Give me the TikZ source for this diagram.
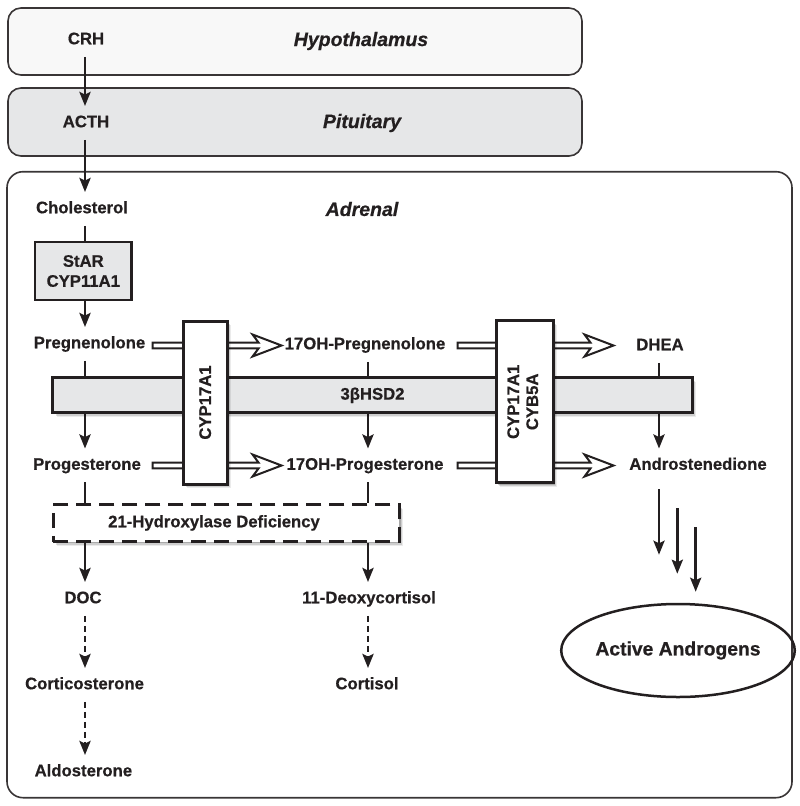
\documentclass[tikz,border=0pt]{standalone}
\usepackage{fontspec}
\setmainfont{Liberation Sans}[BoldFeatures={FakeBold=0.6},BoldItalicFeatures={FakeBold=0.6}]
\usetikzlibrary{arrows.meta,shapes.geometric,shadows,calc}
\definecolor{ink}{HTML}{231F20}
\definecolor{boxgray}{HTML}{E6E7E8}
\definecolor{lightfill}{HTML}{F8F8F8}
\newcommand\hollowarr[2]{%
  \draw[hollow] let \p1=#1, \p2=#2 in
   (\x1,{\y1+2.9pt}) -- ({\x2-23pt},{\y1+2.9pt}) -- ({\x2-29pt},{\y1+11pt})
   -- (\x2,\y1) -- ({\x2-29pt},{\y1-11pt}) -- ({\x2-23pt},{\y1-2.9pt})
   -- (\x1,{\y1-2.9pt}) -- cycle;}
\begin{document}
\begin{tikzpicture}[x=1pt,y=-1pt,
  region/.style={draw=ink!90, line width=1.6pt, rounded corners=13pt, inner sep=0pt},
  txt/.style={font=\bfseries\fontsize{16.7}{20}\selectfont, text=ink, text height=12pt, text depth=3.5pt, inner xsep=2pt, inner ysep=9pt},
  lbl/.style={font=\bfseries\itshape\fontsize{19.5}{22}\selectfont, text=ink},
  arr/.style={draw=ink, line width=2.8pt, -{Stealth[length=14pt,width=11pt,inset=2.5pt]}},
  dasharr/.style={arr, dash pattern=on 6pt off 4pt},
  plain/.style={draw=ink, line width=2.8pt},
  softshadow/.style={
     drop shadow={shadow xshift=4pt, shadow yshift=-4pt, fill=black, opacity=0.08},
     drop shadow={shadow xshift=3pt, shadow yshift=-3pt, fill=black, opacity=0.12},
     drop shadow={shadow xshift=1.8pt, shadow yshift=-1.8pt, fill=black, opacity=0.18}},
  enzbox/.style={draw=ink, line width=3pt, fill=white, inner sep=0pt,
     font=\bfseries\fontsize{16.7}{20}\selectfont, text=ink, softshadow},
  place/.style={inner sep=0pt, outer sep=1.5pt},
  hollow/.style={draw=ink, line width=2pt, fill=white, line join=miter},
]
\useasboundingbox (0,0) rectangle (800,806);

% regions
\node[region, fill=lightfill, minimum width=574pt, minimum height=67pt] (hypo) at (295,41.5) {};
\node[region, fill=boxgray, minimum width=574pt, minimum height=68pt] (pit) at (295,122) {};
\node[region, rounded corners=16pt, minimum width=785pt, minimum height=626pt] (adr) at (399.5,484.7) {};

\node[lbl] (hypol) at (361,41) {Hypothalamus};
\node[lbl] (pitl) at (362,123) {Pituitary};
\node[lbl] (adrl) at (362,209) {Adrenal};

\coordinate (colA) at (85,0);
\coordinate (colB) at (368,0);
\coordinate (colC) at (659,0);

% metabolites
\node[txt] (crh) at (86,40) {CRH};
\node[txt] (acth) at (86,123) {ACTH};
\node[txt] (chol) at (82,209) {Cholesterol};
\node[txt] (preg) at (89.5,344) {Pregnenolone};
\node[txt] (prog) at (87,465.5) {Progesterone};
\node[txt] (doc) at (83,599) {DOC};
\node[txt] (cort) at (84.5,685) {Corticosterone};
\node[txt] (aldo) at (83.4,772) {Aldosterone};
\node[txt] (ohpreg) at (365,345) {17OH-Pregnenolone};
\node[txt] (ohprog) at (365,465.5) {17OH-Progesterone};
\node[txt] (deoxy) at (369,599) {11-Deoxycortisol};
\node[txt] (cortisol) at (367,685) {Cortisol};
\node[txt] (dhea) at (660,346) {DHEA};
\node[txt] (andro) at (698,465.5) {Androstenedione};

\node[draw=ink, line width=2.5pt, fill=boxgray, minimum width=96.7pt, minimum height=58pt,
  align=center, inner sep=0pt, font=\bfseries\fontsize{16.7}{20}\selectfont, text=ink] (star) at (83.3,271) {StAR\\CYP11A1};

\node[ellipse, draw=ink, line width=2.5pt, minimum width=204pt, minimum height=93pt, inner sep=0pt,
  font=\bfseries\fontsize{19.3}{22}\selectfont, text=ink] (act) at (678,650.5) {Active Androgens};

% connectors (behind the band)
\draw[arr] (crh.south -| colA) -- (acth.north -| colA);
\draw[arr] (acth.south -| colA) -- (chol.north -| colA);
\draw[plain] (chol.south -| colA) -- (star.north -| colA);
\draw[arr] (star.south -| colA) -- (preg.north -| colA);
\draw[arr] (preg.south -| colA) -- (prog.north -| colA);
\draw[arr] (ohpreg.south -| colB) -- (ohprog.north -| colB);
\draw[arr] (dhea.south -| colC) -- (andro.north -| colC);

% 3bHSD2 band
\node[enzbox, fill=boxgray, minimum width=639.7pt, minimum height=34.7pt] (hsd) at (372.5,395.3) {3βHSD2};

% places of the CYP17A1 boxes
\node[place, minimum width=43.7pt, minimum height=163pt] (cypA) at (205.2,402.5) {};
\node[place, minimum width=57pt, minimum height=162.3pt] (cypB) at (524.5,401.8) {};

\hollowarr{($(cypA.west |- preg)+(-29.3,1.5)$)}{($(cypA.east |- preg)+(53,1.5)$)}
\hollowarr{($(cypA.west |- prog)+(-29.3,0)$)}{($(cypA.east |- prog)+(53,0)$)}
\hollowarr{($(cypB.west |- preg)+(-37,1.5)$)}{($(cypB.east |- preg)+(59,1.5)$)}
\hollowarr{($(cypB.west |- prog)+(-37,0)$)}{($(cypB.east |- prog)+(59,0)$)}

\node[enzbox, minimum width=43.7pt, minimum height=163pt] (cypAbox) at (cypA) {\rotatebox{90}{CYP17A1}};
\node[enzbox, minimum width=57pt, minimum height=162.3pt] (cypBbox) at (cypB)
  {\rotatebox{90}{\begin{tabular}{@{}c@{}}CYP17A1\\[-1pt]CYB5A\end{tabular}}};

% 21-hydroxylase deficiency
\node[enzbox, dash pattern=on 15pt off 8pt, minimum width=345.7pt, minimum height=36.7pt] (hyd) at (226.2,523.3) {};
\node[txt, inner ysep=0pt] (hydt) at (214,523) {21-Hydroxylase Deficiency};

\draw[plain] (prog.south -| colA) -- (hyd.north -| colA);
\draw[arr] (hyd.south -| colA) -- (doc.north -| colA);
\draw[dasharr] (doc.south -| colA) -- (cort.north -| colA);
\draw[dasharr] (cort.south -| colA) -- (aldo.north -| colA);

\draw[plain] (ohprog.south -| colB) -- (hyd.north -| colB);
\draw[arr] (hyd.south -| colB) -- (deoxy.north -| colB);
\draw[dasharr] (deoxy.south -| colB) -- (cortisol.north -| colB);

% towards active androgens
\coordinate (s1) at (659,489);
\coordinate (s2) at (677.3,508);
\coordinate (s3) at (695.7,527);
\draw[arr, shorten >=48pt] (s1) -- (s1 |- act.north);
\draw[arr, shorten >=29pt] (s2) -- (s2 |- act.north);
\draw[arr, shorten >=11pt] (s3) -- (s3 |- act.north);
\end{tikzpicture}
\end{document}
